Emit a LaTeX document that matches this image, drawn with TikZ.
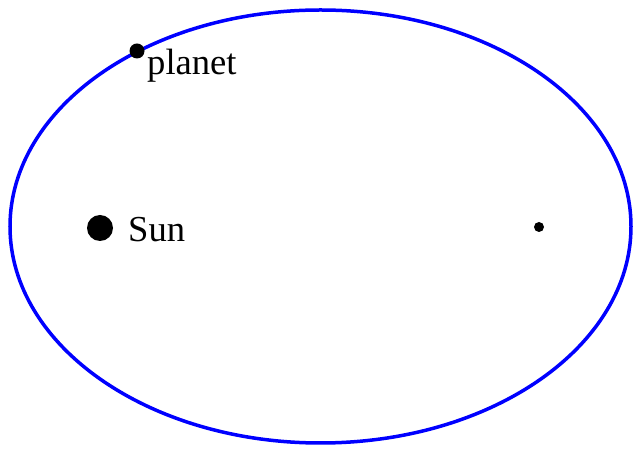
\documentclass[tikz,border=0pt]{standalone}
\usepackage{fontspec}
\setmainfont{Liberation Serif}
\begin{document}
\begin{tikzpicture}[x=1pt,y=1pt,
    body/.style={circle,fill=black,inner sep=0pt},
    lbl/.style={anchor=base west,inner sep=0pt,font=\fontsize{36.6}{44}\selectfont}]
      \useasboundingbox (0,0) rectangle (640,455);
      \draw[blue,line width=3.5pt] (320.5,228.5) ellipse [x radius=310.5pt, y radius=216.5pt];
      \node[body,minimum size=26pt] (sun) at (100,227) {};
      \node[body,minimum size=10pt] (focus) at (539,228) {};
      \node[body,minimum size=15pt] (planet) at (137,404) {};
      \node[lbl] (sunlabel) at (128,213) {Sun};
      \node[lbl] (planetlabel) at (147,380) {planet};
\end{tikzpicture}
\end{document}
